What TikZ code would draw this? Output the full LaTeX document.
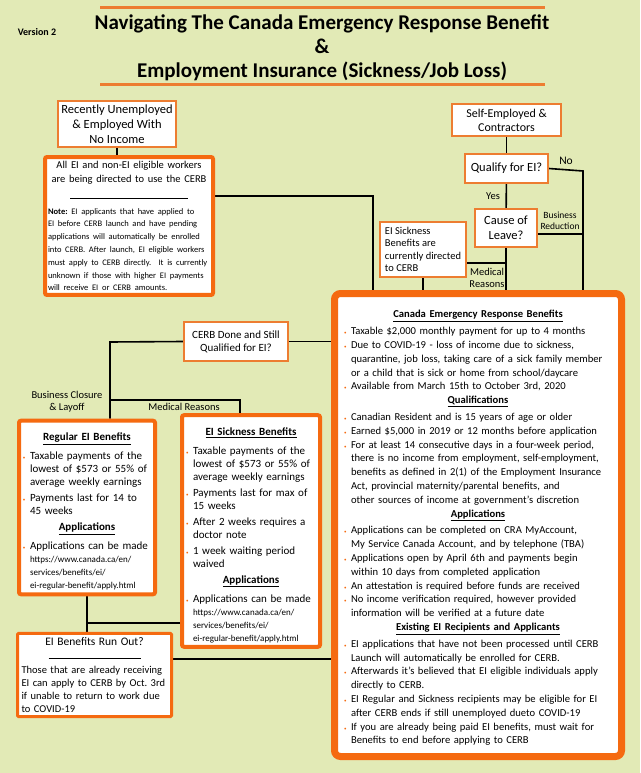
\documentclass[tikz,border=0pt]{standalone}
\usepackage{fontspec}
\setmainfont{Carlito}
\usetikzlibrary{positioning}
\tikzset{every node/.append style={execute at begin node={\hyphenpenalty=10000\exhyphenpenalty=10000\frenchspacing\relax}}}
\usepackage{xcolor}
\definecolor{paper}{RGB}{226,234,182}
\definecolor{boxorange}{RGB}{237,125,49}
\definecolor{cerborange}{RGB}{245,106,16}
\pgfdeclarelayer{bg}
\pgfdeclarelayer{wires}
\pgfsetlayers{bg,wires,main}
\tikzset{
  thinbox/.style={draw=boxorange, line width=2pt, fill=white, inner sep=2pt, align=center},
  thickbox/.style={draw=cerborange, line width=4pt, fill=white, rounded corners=2pt, inner sep=4pt, align=left},
  cerbbox/.style={draw=cerborange, line width=7pt, fill=white, rounded corners=6pt, align=left},
  link/.style={draw=black, line width=1.6pt},
  lbl/.style={font=\fontsize{10.5}{12}\selectfont, align=center, inner sep=1pt},
}
\newcommand\dotb{\makebox[7pt][l]{\textcolor{cerborange}{\tiny\textbullet}}}
\newcommand\bitem[1]{\par\hangindent=7pt\hangafter=1\noindent\dotb#1}
\newcommand\bhead[1]{\par{\centering\bfseries\underline{#1}\par}\vspace{3pt}}
\newcommand\urlsize{\fontsize{9}{12}\selectfont}

\begin{document}
\begin{tikzpicture}[x=1pt, y=-1pt, font=\fontsize{11}{13}\selectfont]
  \begin{pgfonlayer}{bg}
    \fill[paper] (0,0) rectangle (640,773);
  \end{pgfonlayer}
  \useasboundingbox (0,0) rectangle (640,773);

  % title
  \draw[boxorange, line width=3pt] (100,8) -- (545,8);
  \draw[boxorange, line width=3pt] (100,85) -- (545,85);
  \node[font=\fontsize{10}{12}\selectfont\bfseries] (version) at (37,32) {Version 2};
  \node[font=\fontsize{21}{24}\selectfont\bfseries, align=center] (title) at (322,48)
    {Navigating The Canada Emergency Response Benefit\\\&\\Employment Insurance (Sickness/Job Loss)};

  % top left
  \node[thinbox, minimum width=118pt, minimum height=46pt, font=\fontsize{12.5}{15}\selectfont] (unemp) at (117,124)
    {Recently Unemployed\\\& Employed With\\No Income};
  \node[thickbox, minimum width=168pt, minimum height=136pt, text width=162pt, inner xsep=3pt] (cerbnote) at (129,226) {%
    {\centering\fontsize{10.5}{14}\selectfont All EI and non-EI eligible workers\\are being directed to use the CERB\par}
    \vspace{4pt}
    {\centering\rule{118pt}{1pt}\par}
    \vspace{2pt}
    {\fontsize{8.5}{12.8}\selectfont\textbf{Note:} EI applicants that have applied to\newline
    EI before CERB launch and have pending\newline
    applications will automatically be enrolled\newline
    into CERB. After launch, EI eligible workers\newline
    must apply to CERB directly.\ \ It is currently\newline
    unknown if those with higher EI payments\newline
    will receive EI or CERB amounts.\par}};

  % top right
  \node[thinbox, minimum width=109pt, minimum height=32pt, font=\fontsize{12}{14}\selectfont] (selfemp) at (506.5,120)
    {Self-Employed \&\\Contractors};
  \node[thinbox, minimum width=83pt, minimum height=29pt, font=\fontsize{12.5}{15}\selectfont] (qualify) at (506.5,168.5)
    {Qualify for EI?};
  \node[thinbox, minimum width=62pt, minimum height=38pt, font=\fontsize{12.5}{15}\selectfont] (cause) at (506,228)
    {Cause of\\Leave?};
  \node[thinbox, minimum width=86pt, minimum height=55pt, align=left, font=\fontsize{10.5}{12.5}\selectfont] (sickdir) at (423,249.5)
    {EI Sickness\\Benefits are\\currently directed\\to CERB};

  % main CERB box
  \node[cerbbox, minimum width=287pt, minimum height=463pt, text width=268pt, inner xsep=9.5pt, inner ysep=6pt,
        font=\fontsize{10.6}{13.8}\selectfont] (cerb) at (478,525) {%
    \bhead{Canada Emergency Response Benefits}
    \bitem{Taxable \$2,000 monthly payment for up to 4 months}
    \bitem{Due to COVID-19 - loss of income due to sickness,\newline quarantine, job loss, taking care of a sick family member\newline or a child that is sick or home from school/daycare}
    \bitem{Available from March 15th to October 3rd, 2020}
    \bhead{Qualifications}
    \bitem{Canadian Resident and is 15 years of age or older}
    \bitem{Earned \$5,000 in 2019 or 12 months before application}
    \bitem{For at least 14 consecutive days in a four-week period,\newline there is no income from employment, self-employment,\newline benefits as defined in 2(1) of the Employment Insurance\newline Act, provincial maternity/parental benefits, and\newline other sources of income at government's discretion}
    \bhead{Applications}
    \bitem{Applications can be completed on CRA MyAccount,\newline My Service Canada Account, and by telephone (TBA)}
    \bitem{Applications open by April 6th and payments begin\newline within 10 days from completed application}
    \bitem{An attestation is required before funds are received}
    \bitem{No income verification required, however provided\newline information will be verified at a future date}
    \bhead{Existing EI Recipients and Applicants}
    \bitem{EI applications that have not been processed until CERB\newline Launch will automatically be enrolled for CERB.}
    \bitem{Afterwards it's believed that EI eligible individuals apply\newline directly to CERB.}
    \bitem{EI Regular and Sickness recipients may be eligible for EI\newline after CERB ends if still unemployed dueto COVID-19}
    \bitem{If you are already being paid EI benefits, must wait for\newline Benefits to end before applying to CERB}\par};

  % left side
  \node[thinbox, minimum width=104pt, minimum height=39pt] (cerbdone) at (236,341.5)
    {CERB Done and Still\\Qualified for EI?};
  \node[thickbox, minimum width=136pt, minimum height=171pt, text width=128pt] (regei) at (87,507.5) {%
    \setlength{\parskip}{3pt}%
    \bhead{Regular EI Benefits}
    \bitem{Taxable payments of the\newline lowest of \$573 or 55\% of\newline average weekly earnings}
    \bitem{Payments last for 14 to\newline 45 weeks}
    \bhead{Applications}
    \bitem{Applications can be made\newline{\urlsize https://www.canada.ca/en/\newline services/benefits/ei/\newline ei-regular-benefit/apply.html}}\par};
  \node[thickbox, minimum width=138pt, minimum height=224pt, text width=130pt] (sickben) at (251,531) {%
    \setlength{\parskip}{3pt}%
    \bhead{EI Sickness Benefits}
    \bitem{Taxable payments of the\newline lowest of \$573 or 55\% of\newline average weekly earnings}
    \bitem{Payments last for max of\newline 15 weeks}
    \bitem{After 2 weeks requires a\newline doctor note}
    \bitem{1 week waiting period\newline waived}
    \bhead{Applications}
    \bitem{Applications can be made\newline{\urlsize https://www.canada.ca/en/\newline services/benefits/ei/\newline ei-regular-benefit/apply.html}}\par};
  \node[thickbox, line width=3pt, rounded corners=1pt, minimum width=154pt, minimum height=78pt, text width=146pt, inner xsep=4pt,
        font=\fontsize{10.5}{13}\selectfont] (runout) at (94.5,675) {%
    {\centering\fontsize{11.5}{13}\selectfont EI Benefits Run Out?\par}
    \vspace{1pt}
    {\centering\rule{92pt}{1pt}\par}
    \vspace{1pt}
    Those that are already receiving\newline EI can apply to CERB by Oct. 3rd\newline if unable to return to work due\newline to COVID-19\par};

  % junctions
  \coordinate (jtop) at (373,196);
  \coordinate (jno) at (583,171);
  \coordinate (jmed) at (506,263);
  \coordinate (jleft) at (110,342);
  \coordinate (jsplit) at (110,400);
  \coordinate (jsick) at (240,400);
  \coordinate (jrun) at (87,623);

  % connectors
  \begin{pgfonlayer}{wires}
    \draw[link] (unemp.south) -- (unemp.south |- cerbnote.north);
    \draw[link] (cerbnote.east |- jtop) -- (jtop) -- (jtop |- cerb.north);
    \draw[link] (selfemp) -- (qualify);
    \draw[link] (qualify) -- (cause);
    \draw[link] (qualify.east) -- (jno) -- (jno |- cerb.north);
    \draw[link] ([yshift=-6pt]cause.east) -- ([yshift=-6pt]cause.east -| jno);
    \draw[link] (cause.south) -- (cause.south |- cerb.north);
    \draw[link] (sickdir.east |- jmed) -- (jmed);
    \draw[link] (sickdir.south) -- (sickdir.south |- cerb.north);
    \draw[link] (cerbdone.east) -- (cerbdone.east -| cerb.west);
    \draw[link] (cerbdone.west) -- (jleft) -- (jleft |- regei.north);
    \draw[link] (jsplit) -- (jsick) -- (jsick |- sickben.north);
    \draw[link] (regei.south) -- (regei.south |- runout.north);
    \draw[link] (sickben.west |- jrun) -- (jrun);
    \draw[link] ([yshift=16pt]runout.east) -- ([yshift=16pt]runout.east -| cerb.west);
  \end{pgfonlayer}

  % branch labels
  \node[lbl, font=\fontsize{11.5}{13}\selectfont] (lno) at (566,161) {No};
  \node[lbl] (lyes) at (493,196) {Yes};
  \node[lbl, font=\fontsize{9.5}{11.5}\selectfont] (lbusred) at (560,221) {Business\\Reduction};
  \node[lbl] (lmedtop) at (487,278) {Medical\\Reasons};
  \node[lbl] (lclosure) at (67,402) {Business Closure\\\& Layoff};
  \node[lbl] (lmedleft) at (184,407) {Medical Reasons};
\end{tikzpicture}
\end{document}
